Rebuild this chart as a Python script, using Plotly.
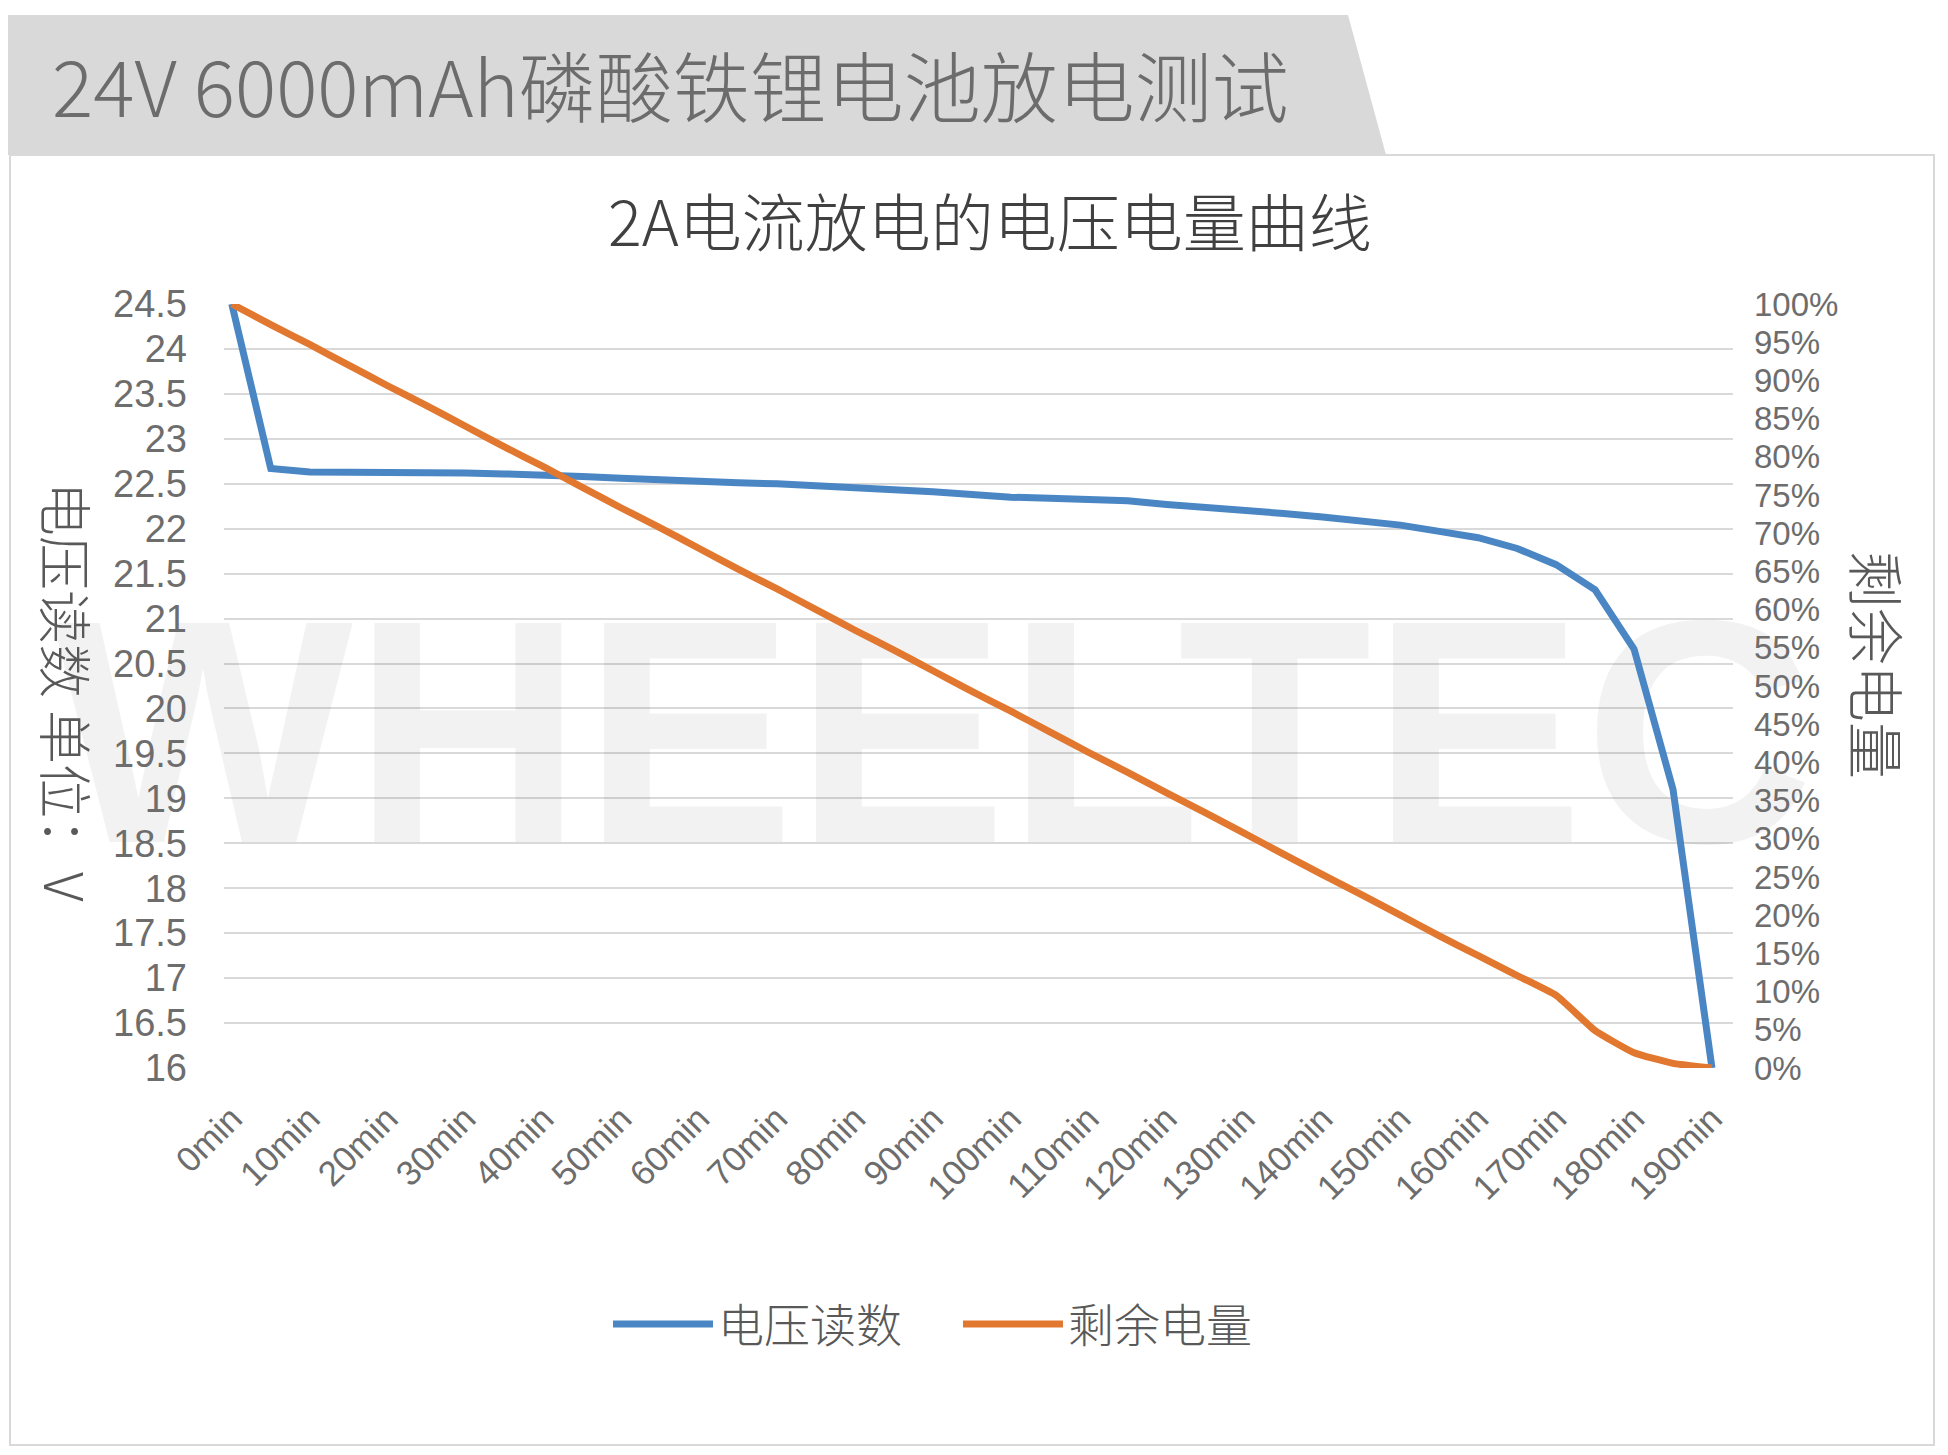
import plotly.graph_objects as go

# ---------------- data ----------------
minutes = [0, 5, 10, 15, 20, 25, 30, 35, 40, 45, 50, 55, 60, 65, 70, 75, 80, 85, 90, 95,
           100, 105, 110, 115, 120, 125, 130, 135, 140, 145, 150, 155, 160, 165, 170, 175,
           180, 185, 190]
voltage = [24.50, 22.67, 22.63, 22.63, 22.62, 22.62, 22.62, 22.61, 22.60, 22.58, 22.56,
           22.54, 22.53, 22.51, 22.50, 22.48, 22.46, 22.44, 22.41, 22.38, 22.35, 22.34,
           22.33, 22.31, 22.27, 22.24, 22.20, 22.17, 22.13, 22.09, 22.04, 21.97, 21.90,
           21.78, 21.60, 21.32, 20.66, 19.10, 16.00]
remaining = [100.0, 97.3, 94.7, 92.0, 89.3, 86.7, 84.0, 81.3, 78.7, 76.0, 73.3, 70.7, 68.0,
             65.3, 62.7, 60.0, 57.3, 54.7, 52.0, 49.3, 46.7, 44.0, 41.3, 38.7, 36.0, 33.4,
             30.7, 28.0, 25.3, 22.7, 20.0, 17.3, 14.7, 12.1, 9.5, 4.9, 2.0, 0.6, 0.0]

x_tick_vals = [0, 10, 20, 30, 40, 50, 60, 70, 80, 90, 100, 110, 120, 130, 140, 150, 160,
               170, 180, 190]
x_tick_text = ["0min", "10min", "20min", "30min", "40min", "50min", "60min", "70min",
               "80min", "90min", "100min", "110min", "120min", "130min", "140min",
               "150min", "160min", "170min", "180min", "190min"]
y_tick_vals = [16, 16.5, 17, 17.5, 18, 18.5, 19, 19.5, 20, 20.5, 21, 21.5, 22, 22.5, 23,
               23.5, 24, 24.5]
y_tick_text = ["16", "16.5", "17", "17.5", "18", "18.5", "19", "19.5", "20", "20.5", "21",
               "21.5", "22", "22.5", "23", "23.5", "24", "24.5"]
y2_tick_vals = [0, 5, 10, 15, 20, 25, 30, 35, 40, 45, 50, 55, 60, 65, 70, 75, 80, 85, 90,
                95, 100]
y2_tick_text = [f"{v}%" for v in y2_tick_vals]

series_names = ["电压读数", "剩余电量"]
main_title = "24V 6000mAh磷酸铁锂电池放电测试"
chart_title = "2A电流放电的电压电量曲线"
y_title = "电压读数 单位：V"
y2_title = "剩余电量"
watermark = "WHEELTEC"

# ---------------- layout geometry (page pixels; page body has an 8px margin) ----------
OFF = 8
W, H = 1948 - OFF, 1455 - OFF
L = 224 - OFF
T = 304 - OFF
R = W - (1733 - OFF)
B = H - (1068 - OFF)
PW, PH = W - L - R, H - T - B
x_range = [-1.0, 192.7]
y_range = [16, 24.5]
y2_range = [0, 100]


def px(xp):
    return (xp - OFF - L) / PW


def py(yp):
    return (H - B - (yp - OFF)) / PH


CJK = "Noto Sans CJK SC"
NUM = "Liberation Sans"
BLUE = "#4a86c4"
ORANGE = "#e2782f"

fig = go.Figure()

# watermark (behind lines)
fig.add_trace(go.Scatter(
    x=[x_range[0] + 0.47 * (x_range[1] - x_range[0])],
    y=[y_range[0] + 0.40 * (y_range[1] - y_range[0])],
    mode="text", text=[watermark],
    textfont=dict(family=NUM, size=318, weight=700, color="rgba(0,0,0,0.05)"),
    showlegend=False, hoverinfo="skip", cliponaxis=False))

fig.add_trace(go.Scatter(
    x=minutes, y=voltage, name=series_names[0], mode="lines",
    line=dict(color=BLUE, width=7), yaxis="y"))
fig.add_trace(go.Scatter(
    x=minutes, y=remaining, name=series_names[1], mode="lines",
    line=dict(color=ORANGE, width=7, shape="spline", smoothing=0.4), yaxis="y2"))

shapes = [
    dict(type="rect", xref="paper", yref="paper",
         x0=px(10), x1=px(1934), y0=py(1445), y1=py(155),
         line=dict(color="#d9d9d9", width=2), fillcolor="rgba(0,0,0,0)", layer="below"),
    dict(type="path", xref="paper", yref="paper",
         path=(f"M {px(8)} {py(15)} L {px(1348)} {py(15)} "
               f"L {px(1386)} {py(155)} L {px(8)} {py(155)} Z"),
         fillcolor="#d9d9d9", line=dict(width=0), layer="below"),
]

annotations = [
    dict(text=main_title, xref="paper", yref="paper", x=px(50), y=py(83),
         xanchor="left", yanchor="middle", showarrow=False,
         font=dict(family=CJK, size=77, color="#6c6c6c", weight=300)),
    dict(text=chart_title, xref="paper", yref="paper", x=px(990), y=py(218),
         xanchor="center", yanchor="middle", showarrow=False,
         font=dict(family=CJK, size=63, color="#404040", weight=300)),
    dict(text=y_title, xref="paper", yref="paper", x=px(68), y=py(692),
         xanchor="center", yanchor="middle", showarrow=False, textangle=90,
         font=dict(family=CJK, size=54, color="#595959", weight=300)),
    dict(text=y2_title, xref="paper", yref="paper", x=px(1879), y=py(665),
         xanchor="center", yanchor="middle", showarrow=False, textangle=90,
         font=dict(family=CJK, size=57, color="#595959", weight=300)),
]

fig.update_layout(
    width=W, height=H,
    margin=dict(l=L, r=R, t=T, b=B, autoexpand=False),
    paper_bgcolor="white", plot_bgcolor="rgba(0,0,0,0)",
    shapes=shapes, annotations=annotations,
    xaxis=dict(range=x_range, tickmode="array", tickvals=x_tick_vals,
               ticktext=x_tick_text, tickangle=-45, showgrid=False, zeroline=False,
               showline=False, ticks="",
               tickfont=dict(family=NUM, size=35, color="#6d6d6d"),
               ticklabelstandoff=22),
    yaxis=dict(range=y_range, tickmode="array", tickvals=y_tick_vals,
               ticktext=y_tick_text, showgrid=True, gridcolor="#d9d9d9", gridwidth=1.5,
               zeroline=False, showline=False, ticks="",
               tickfont=dict(family=NUM, size=38, color="#6d6d6d"),
               ticklabelstandoff=36),
    yaxis2=dict(range=y2_range, overlaying="y", side="right", tickmode="array",
                tickvals=y2_tick_vals, ticktext=y2_tick_text, showgrid=False,
                zeroline=False, showline=False, ticks="",
                tickfont=dict(family=NUM, size=33, color="#6d6d6d"),
                ticklabelstandoff=20),
    legend=dict(orientation="h", x=px(958), xanchor="center", y=py(1324),
                yanchor="middle",
                font=dict(family=CJK, size=46, color="#595959", weight=300),
                bgcolor="rgba(0,0,0,0)", itemwidth=100, entrywidth=235),
    showlegend=True,
)

fig.write_html("out.html")
